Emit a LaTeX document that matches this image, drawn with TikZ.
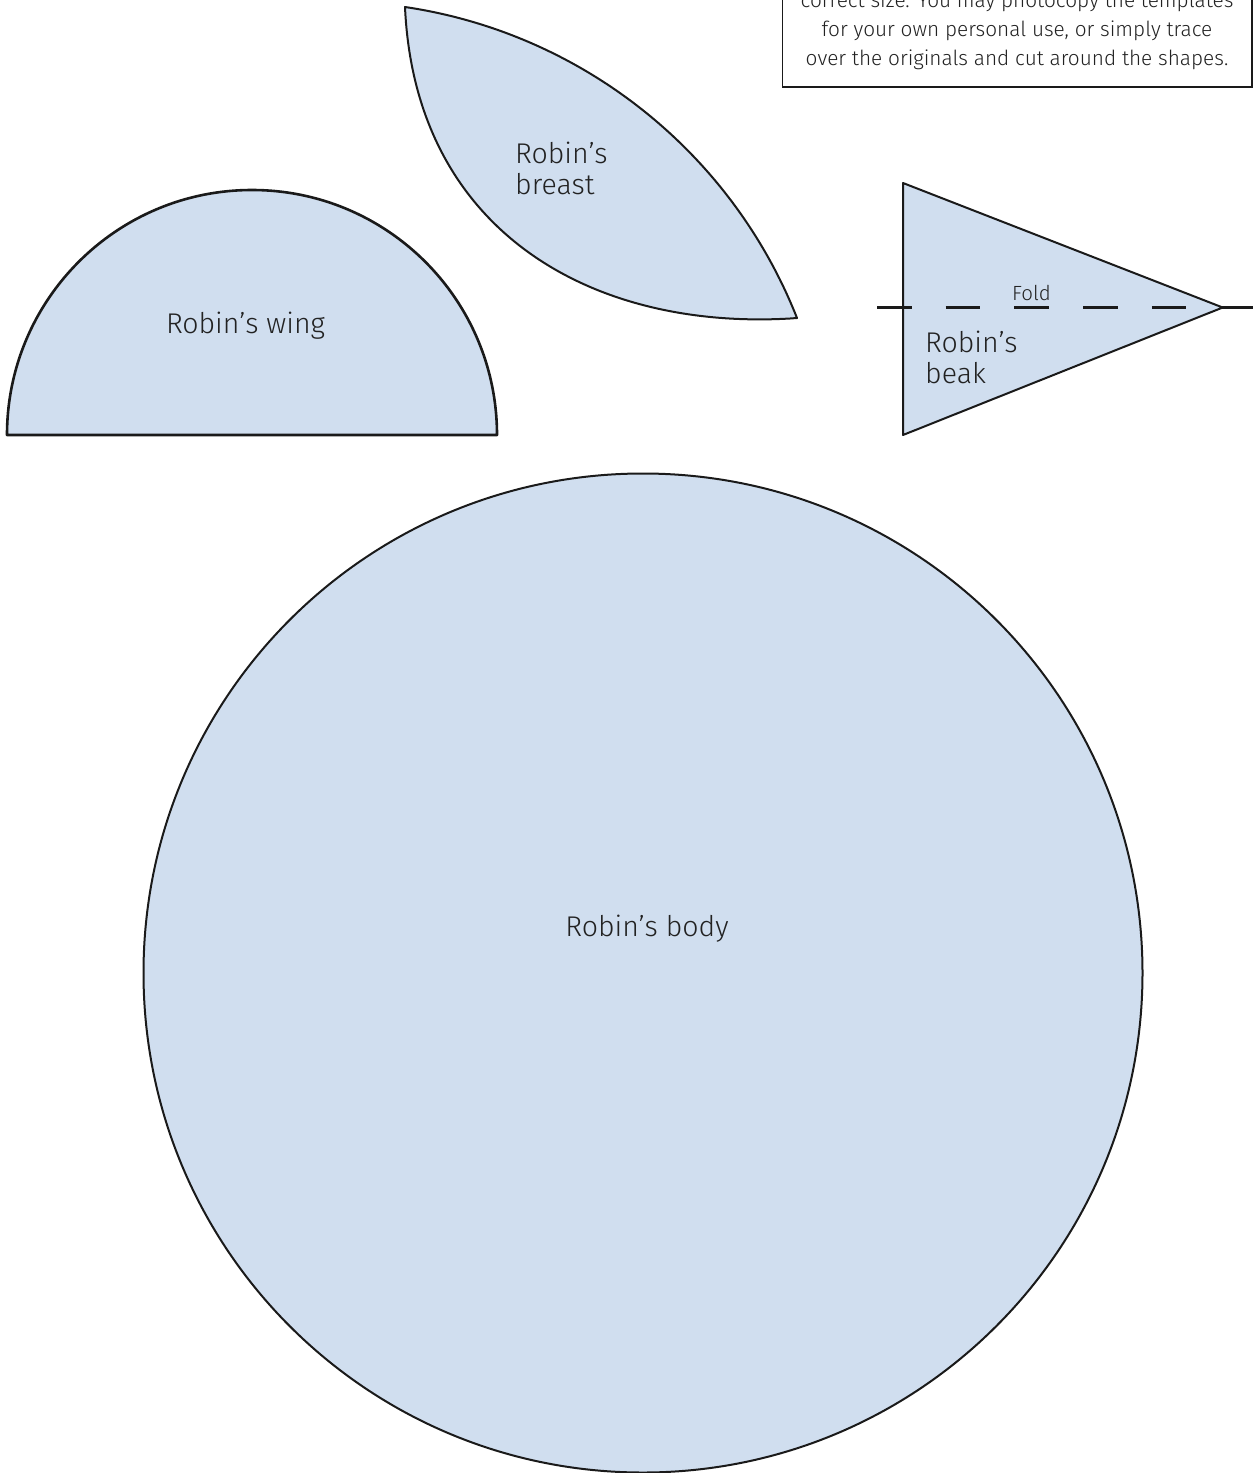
\documentclass[tikz,border=0pt]{standalone}
\usepackage{fontspec}
\setmainfont{Fira Sans Light}
\definecolor{tfill}{HTML}{D0DEEF}
\definecolor{tline}{HTML}{1A1A1A}
\definecolor{ttext}{HTML}{222222}
\begin{document}
\begin{tikzpicture}[x=1pt,y=-1pt,
  cutshape/.style={fill=tfill,draw=tline,line width=2pt,line join=round},
  lbl/.style={inner sep=0pt,text=ttext,font=\fontsize{28.5}{31}\selectfont},
  notetext/.style={inner sep=0pt,text=ttext,font=\fontsize{20.8}{29}\selectfont},
  foldtext/.style={inner sep=0pt,text=ttext,font=\fontsize{20.5}{20}\selectfont}]
\useasboundingbox (0,0) rectangle (1260,1473);
\clip (0,0) rectangle (1260,1473);

% note box
\draw[tline,line width=1.3pt,fill=white] (782.5,-20) rectangle (1252,87);
\node[notetext,anchor=base] (note1) at (1017,7) {correct size. You may photocopy the templates};
\node[notetext,anchor=base] (note2) at (1017,36) {for your own personal use, or simply trace};
\node[notetext,anchor=base] (note3) at (1017,65) {over the originals and cut around the shapes.};

% breast (lens)
\coordinate (bA) at (405,7);
\coordinate (bB) at (797,318);
\draw[cutshape] (bA) .. controls (581.7,33.1) and (731.3,151.9) .. (bB)
  -- (790,318.5) .. controls (590,330) and (415,230) .. (bA) -- cycle;
\node[lbl,anchor=base west] (breast1) at (515,163) {Robin’s};
\node[lbl,anchor=base west] (breast2) at (515,194.5) {breast};

% wing (half disc)
\draw[cutshape,line width=2.6pt] (7,435) arc[start angle=180,end angle=360,radius=245] -- cycle;
\node[lbl,anchor=base] (wing) at (245.5,333) {Robin’s wing};

% beak (triangle)
\coordinate (kT) at (903,183);
\coordinate (kB) at (903,435);
\coordinate (kP) at (1222.7,307.5);
\draw[cutshape] (kT) -- (kP) -- (kB) -- cycle;
\coordinate (f1) at (877,307.5);
\coordinate (f2) at (1253,307.5);
\draw[tline,line width=2.6pt,dash pattern=on 34.5pt off 34.2pt] (f1) -- (f2);
\node[foldtext,anchor=base] (fold) at (1031.5,300) {Fold};
\node[lbl,anchor=base west] (beak1) at (925,352) {Robin’s};
\node[lbl,anchor=base west] (beak2) at (925,383) {beak};

% body (disc)
\coordinate (bc) at (643,973);
\draw[cutshape,line width=2pt] (bc) circle[radius=499.5];
\node[lbl,anchor=base] (body) at (647,936) {Robin’s body};
\end{tikzpicture}
\end{document}
